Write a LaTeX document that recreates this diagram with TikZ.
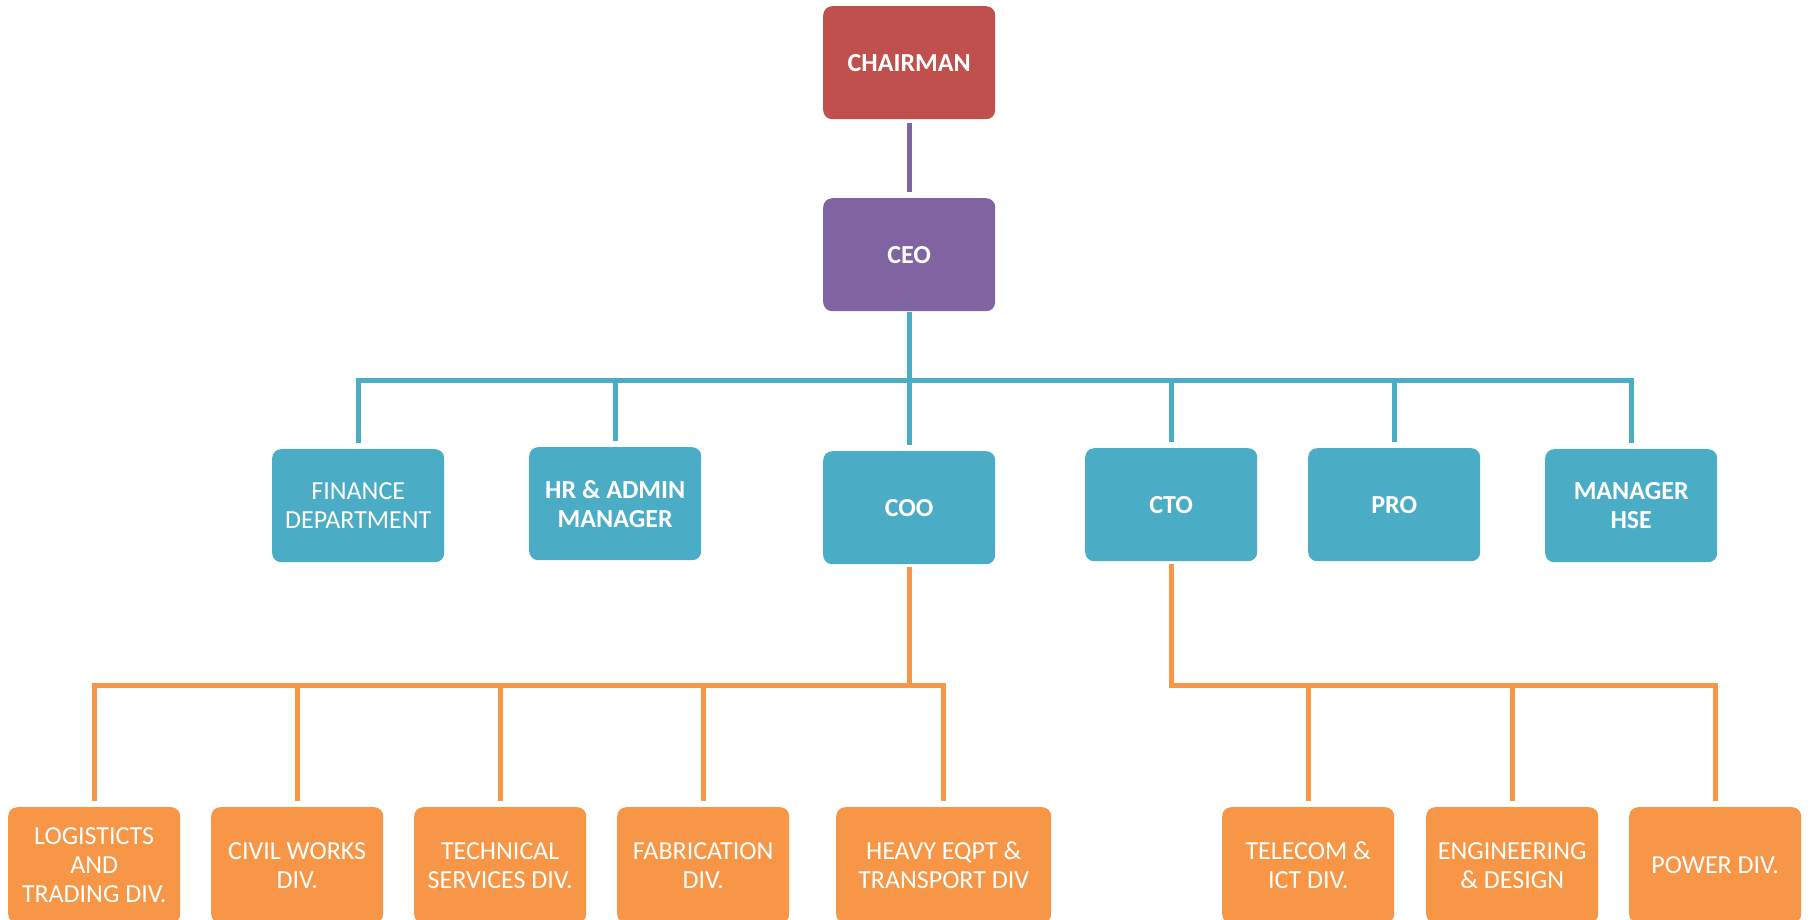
\documentclass[tikz,border=0pt]{standalone}
\usepackage{fontspec}
\setmainfont{Carlito}
\definecolor{cred}{HTML}{C0504D}
\definecolor{cpurple}{HTML}{8064A2}
\definecolor{cteal}{HTML}{4BACC6}
\definecolor{corange}{HTML}{F79646}
\tikzset{
  box/.style={anchor=north west, rounded corners=9pt, minimum width=172pt, minimum height=113pt,
    text=white, align=center, inner sep=0pt, font=\fontsize{26}{29}\selectfont},
  bbox/.style={box, font=\fontsize{26}{29}\selectfont\bfseries},
  tealbox/.style={fill=cteal},
  orgbox/.style={box, fill=corange, minimum height=116pt},
  conn/.style={line width=5pt, line join=miter, line cap=butt},
  tl/.style={conn, draw=cteal},
  ol/.style={conn, draw=corange},
  pl/.style={conn, draw=cpurple}
}
\begin{document}
\begin{tikzpicture}[x=1pt,y=-1pt]
\useasboundingbox (0,0) rectangle (1810,919);
% top
\node[bbox, fill=cred] (chair) at (823,6) {CHAIRMAN};
\node[bbox, fill=cpurple] (ceo) at (823,198) {CEO};
% second level
\node[box, tealbox] (fin) at (272,449) {FINANCE\\DEPARTMENT};
\node[bbox, tealbox] (hr) at (529,447) {HR \& ADMIN\\MANAGER};
\node[bbox, tealbox] (coo) at (823,451) {COO};
\node[bbox, tealbox] (cto) at (1085,448) {CTO};
\node[bbox, tealbox] (pro) at (1308,448) {PRO};
\node[bbox, tealbox] (hse) at (1545,449) {MANAGER\\HSE};
% third level
\node[orgbox] (log) at (8,807) {LOGISTICTS\\AND\\TRADING DIV.};
\node[orgbox] (civ) at (211,807) {CIVIL WORKS\\DIV.};
\node[orgbox] (tec) at (414,807) {TECHNICAL\\SERVICES DIV.};
\node[orgbox] (fab) at (617,807) {FABRICATION\\DIV.};
\node[orgbox, minimum width=215pt] (hvy) at (836,807) {HEAVY EQPT \&\\TRANSPORT DIV};
\node[orgbox] (tel) at (1222,807) {TELECOM \&\\ICT DIV.};
\node[orgbox] (eng) at (1426,807) {ENGINEERING\\\& DESIGN};
\node[orgbox] (pow) at (1629,807) {POWER DIV.};
% bars
\coordinate (tb) at (0,380);
\coordinate (ob) at (0,685);
% connectors
\draw[pl, shorten <=4pt, shorten >=6pt] (chair.south) -- (ceo.north);
\draw[tl, shorten <=1pt] (ceo.south) -- (ceo.south |- tb);
\draw[tl, shorten <=6pt, shorten >=6pt] (fin.north) -- (fin.north |- tb) -- (hse.north |- tb) -- (hse.north);
\draw[tl, shorten >=6pt] (hr.north |- tb) -- (hr.north);
\draw[tl, shorten >=6pt] (coo.north |- tb) -- (coo.north);
\draw[tl, shorten >=6pt] (cto.north |- tb) -- (cto.north);
\draw[tl, shorten >=6pt] (pro.north |- tb) -- (pro.north);
% COO branch
\draw[ol, shorten <=3pt] (coo.south) -- (coo.south |- ob);
\draw[ol, shorten <=6pt, shorten >=6pt] (log.north) -- (log.north |- ob) -- (hvy.north |- ob) -- (hvy.north);
\draw[ol, shorten >=6pt] (civ.north |- ob) -- (civ.north);
\draw[ol, shorten >=6pt] (tec.north |- ob) -- (tec.north);
\draw[ol, shorten >=6pt] (fab.north |- ob) -- (fab.north);
% CTO branch
\draw[ol, shorten <=3pt, shorten >=6pt] (cto.south) -- (cto.south |- ob) -- (pow.north |- ob) -- (pow.north);
\draw[ol, shorten >=6pt] (tel.north |- ob) -- (tel.north);
\draw[ol, shorten >=6pt] (eng.north |- ob) -- (eng.north);
\end{tikzpicture}
\end{document}
